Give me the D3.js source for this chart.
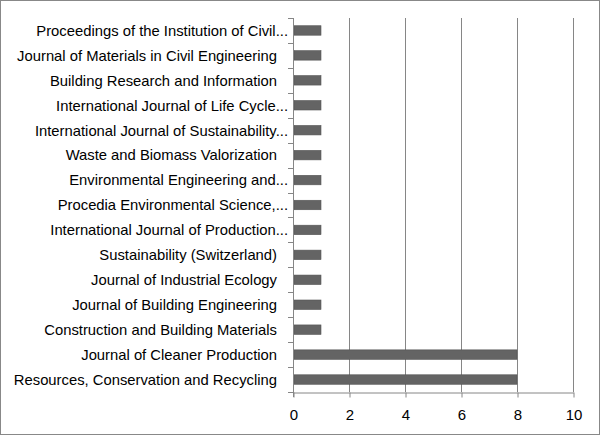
<!DOCTYPE html>
<html>
<head>
<meta charset="utf-8">
<script src="https://cdn.jsdelivr.net/npm/d3@7"></script>
<style>
  body { margin: 0; background: #fff; }
  text { font-family: "Liberation Sans", Arial, sans-serif; fill: #000; }
</style>
</head>
<body>
<div id="chart"></div>
<script>
const journals = [
  "Proceedings of the Institution of Civil...",
  "Journal of Materials in Civil Engineering",
  "Building Research and Information",
  "International Journal of Life Cycle...",
  "International Journal of Sustainability...",
  "Waste and Biomass Valorization",
  "Environmental Engineering and...",
  "Procedia Environmental Science,...",
  "International Journal of Production...",
  "Sustainability (Switzerland)",
  "Journal of Industrial Ecology",
  "Journal of Building Engineering",
  "Construction and Building Materials",
  "Journal of Cleaner Production",
  "Resources, Conservation and Recycling"
];
const counts = [1, 1, 1, 1, 1, 1, 1, 1, 1, 1, 1, 1, 1, 8, 8];
const xTicks = [0, 2, 4, 6, 8, 10];

const W = 601, H = 436;
const margin = { top: 18, right: 28, bottom: 44, left: 293 };
const width = W - margin.left - margin.right;
const height = H - margin.top - margin.bottom;

const svg = d3.select("#chart")
  .append("svg")
  .attr("width", W)
  .attr("height", H);

// chart border
svg.append("rect")
  .attr("x", 0.5).attr("y", 0.5)
  .attr("width", W - 2).attr("height", H - 2)
  .attr("fill", "#fff")
  .attr("stroke", "#888");

const g = svg.append("g")
  .attr("transform", `translate(${margin.left},${margin.top})`);

const x = d3.scaleLinear().domain([0, 10]).range([0, width]);
const y = d3.scaleBand().domain(journals).range([0, height]).paddingInner(0.62).paddingOuter(0.31);
const band = d3.scaleBand().domain(journals).range([0, height]);

// gridlines
g.selectAll(".grid")
  .data(xTicks.slice(1))
  .enter().append("line")
  .attr("x1", d => Math.round(x(d)) + 0.5)
  .attr("x2", d => Math.round(x(d)) + 0.5)
  .attr("y1", 0).attr("y2", height)
  .attr("stroke", "#868686");

// bars
g.selectAll(".bar")
  .data(journals)
  .enter().append("rect")
  .attr("x", x(0) + 1)
  .attr("y", d => y(d))
  .attr("width", (d, i) => x(counts[i]) - x(0) - 1)
  .attr("height", y.bandwidth())
  .attr("fill", "#646464")
  .attr("stroke", "#555")
  .attr("stroke-width", 0.6);

// x axis
const xAxis = g.append("g")
  .attr("transform", `translate(0.5,${Math.round(height) + 0.5})`)
  .call(d3.axisBottom(x).tickValues(xTicks).tickSize(5).tickSizeOuter(0));
xAxis.select(".domain").attr("stroke", "#868686");
xAxis.selectAll(".tick line").attr("stroke", "#868686");
xAxis.selectAll(".tick text")
  .attr("y", 17)
  .attr("font-size", 15)
  .style("font-family", "Liberation Sans, Arial, sans-serif");

// y axis line and tick marks at band boundaries
g.append("line")
  .attr("x1", 0.5).attr("x2", 0.5)
  .attr("y1", 0).attr("y2", height + 5)
  .attr("stroke", "#868686");
g.selectAll(".ytick")
  .data(d3.range(journals.length + 1))
  .enter().append("line")
  .attr("x1", -5).attr("x2", 0.5)
  .attr("y1", i => Math.round(i * band.step()) + 0.5)
  .attr("y2", i => Math.round(i * band.step()) + 0.5)
  .attr("stroke", "#868686");

// category labels
g.selectAll(".label")
  .data(journals)
  .enter().append("text")
  .attr("x", d => d.endsWith("...") ? -5 : -16)
  .attr("y", d => band(d) + band.bandwidth() / 2)
  .attr("dy", "0.36em")
  .attr("text-anchor", "end")
  .attr("font-size", 14.8)
  .text(d => d);
</script>
</body>
</html>
